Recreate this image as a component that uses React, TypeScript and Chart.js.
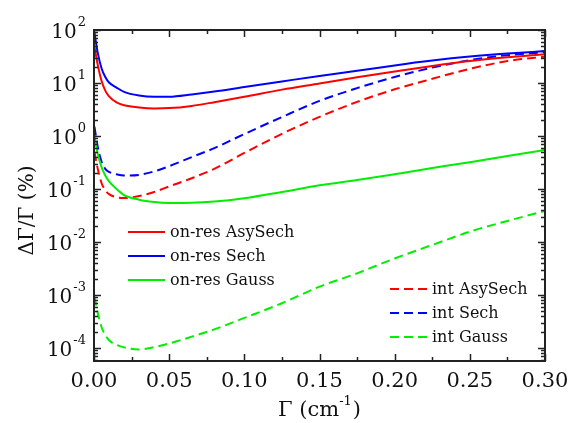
import React, { useEffect, useRef } from "react";
import { Chart, registerables } from "chart.js";

Chart.register(...registerables);

// Γ (cm^-1) sample positions
const gammas = [0.0003, 0.0025, 0.005, 0.0075, 0.01, 0.015, 0.02, 0.03, 0.04, 0.05, 0.065, 0.08, 0.10, 0.125, 0.15, 0.175, 0.20, 0.225, 0.25, 0.275, 0.30];

// ΔΓ/Γ (%) series
const onResAsySech = [49, 22, 11, 7.2, 5.6, 4.3, 3.8, 3.45, 3.32, 3.36, 3.7, 4.35, 5.5, 7.5, 9.8, 12.8, 16.5, 21, 26, 30.5, 34.8];
const onResSech = [88, 37, 19, 13, 10.2, 8.2, 6.8, 5.8, 5.5, 5.52, 6.1, 6.9, 8.4, 10.7, 13.6, 17, 21.5, 26.5, 31.5, 36, 40];
const onResGauss = [0.97, 0.46, 0.26, 0.18, 0.14, 0.1, 0.077, 0.063, 0.057, 0.0548, 0.0552, 0.058, 0.067, 0.088, 0.118, 0.148, 0.19, 0.25, 0.32, 0.42, 0.545];
const intAsySech = [0.5, 0.24, 0.13, 0.095, 0.08, 0.07, 0.068, 0.074, 0.088, 0.112, 0.16, 0.24, 0.48, 1.1, 2.3, 4.4, 7.6, 12, 18.5, 26, 31.4];
const intSech = [1.5, 0.62, 0.33, 0.24, 0.21, 0.19, 0.18, 0.185, 0.215, 0.27, 0.4, 0.59, 1.09, 2.28, 4.6, 8.0, 13, 19.5, 27, 33.5, 38];
const intGauss = [9.3e-4, 4.6e-4, 2.5e-4, 1.76e-4, 1.4e-4, 1.15e-4, 1.03e-4, 9.4e-5, 1.04e-4, 1.22e-4, 1.64e-4, 2.25e-4, 3.7e-4, 7e-4, 1.44e-3, 2.57e-3, 4.9e-3, 8.8e-3, 0.0157, 0.025, 0.0385];

// axes
const xMin = 0;
const xMax = 0.3;
const yMin = 5.7e-5;
const yMax = 100;
const xMajorTicks = [0, 0.05, 0.1, 0.15, 0.2, 0.25, 0.3];
const xTickLabels = ["0.00", "0.05", "0.10", "0.15", "0.20", "0.25", "0.30"];
const xMinorTicks = [0.025, 0.075, 0.125, 0.175, 0.225, 0.275];
const yExponents = [-4, -3, -2, -1, 0, 1, 2];
const yMinorMultipliers = [2, 3, 4, 5, 6, 7, 8, 9];

const xTitle = "Γ (cm";
const xTitleSup = "-1";
const yTitle = "ΔΓ/Γ (%)";

const RED = "#ff0000";
const BLUE = "#0000ff";
const GREEN = "#00ee00";
const DASH = [9, 5];
const FONT = '"DejaVu Serif", serif';

const pts = (arr: number[]) => gammas.map((g, i) => ({ x: g, y: arr[i] }));

const framePlugin = {
  id: "framePlugin",
  afterDraw(chart: any) {
    const ctx: CanvasRenderingContext2D = chart.ctx;
    const { left, right, top, bottom } = chart.chartArea;
    const xs = chart.scales.x;
    const ys = chart.scales.y;
    ctx.save();
    ctx.strokeStyle = "#222";
    ctx.fillStyle = "#111";

    // frame
    ctx.lineWidth = 2;
    ctx.strokeRect(left, top, right - left, bottom - top);

    // ticks
    ctx.lineWidth = 1.5;
    const line = (x1: number, y1: number, x2: number, y2: number) => {
      ctx.beginPath();
      ctx.moveTo(x1, y1);
      ctx.lineTo(x2, y2);
      ctx.stroke();
    };
    xMajorTicks.forEach((v) => {
      const px = Math.round(xs.getPixelForValue(v)) + 0.5;
      line(px, bottom, px, bottom - 7);
      line(px, top, px, top + 7);
    });
    xMinorTicks.forEach((v) => {
      const px = Math.round(xs.getPixelForValue(v)) + 0.5;
      line(px, bottom, px, bottom - 4);
      line(px, top, px, top + 4);
    });
    yExponents.forEach((e) => {
      const py = Math.round(ys.getPixelForValue(Math.pow(10, e))) + 0.5;
      line(left, py, left + 7, py);
      line(right, py, right - 7, py);
    });
    for (let e = -5; e <= 1; e++) {
      yMinorMultipliers.forEach((m) => {
        const v = m * Math.pow(10, e);
        if (v < yMin || v > yMax) return;
        const py = Math.round(ys.getPixelForValue(v)) + 0.5;
        line(left, py, left + 4, py);
        line(right, py, right - 4, py);
      });
    }

    // x tick labels
    ctx.font = `21px ${FONT}`;
    ctx.textAlign = "center";
    ctx.textBaseline = "alphabetic";
    xMajorTicks.forEach((v, i) => {
      ctx.fillText(xTickLabels[i], xs.getPixelForValue(v), bottom + 26);
    });

    // y tick labels: 10^e
    yExponents.forEach((e) => {
      const py = ys.getPixelForValue(Math.pow(10, e));
      ctx.font = `20px ${FONT}`;
      const baseW = ctx.measureText("10").width;
      ctx.font = `13px ${FONT}`;
      const supW = ctx.measureText(String(e)).width;
      const rightEdge = left - 8;
      const x0 = rightEdge - supW - baseW - 1;
      ctx.textAlign = "left";
      ctx.textBaseline = "alphabetic";
      ctx.font = `20px ${FONT}`;
      ctx.fillText("10", x0, py + 8);
      ctx.font = `13px ${FONT}`;
      ctx.fillText(String(e), x0 + baseW + 1, py - 4);
    });

    // x title
    ctx.font = `21px ${FONT}`;
    const tw = ctx.measureText(xTitle).width;
    ctx.font = `13px ${FONT}`;
    const sw = ctx.measureText(xTitleSup).width;
    ctx.font = `21px ${FONT}`;
    const pw = ctx.measureText(")").width;
    const total = tw + sw + pw + 1;
    const cx = (left + right) / 2;
    let xx = cx - total / 2;
    ctx.textAlign = "left";
    ctx.fillText(xTitle, xx, 416);
    xx += tw;
    ctx.font = `13px ${FONT}`;
    ctx.fillText(xTitleSup, xx, 405);
    xx += sw + 1;
    ctx.font = `21px ${FONT}`;
    ctx.fillText(")", xx, 416);

    // y title
    ctx.save();
    ctx.translate(33, (top + bottom) / 2 + 15);
    ctx.rotate(-Math.PI / 2);
    ctx.font = `20px ${FONT}`;
    ctx.textAlign = "center";
    ctx.textBaseline = "alphabetic";
    ctx.fillText(yTitle, 0, 0);
    ctx.restore();

    // legends
    const ds = chart.data.datasets;
    const drawLegend = (idxs: number[], x1: number, x2: number, tx: number, y0: number) => {
      idxs.forEach((di, k) => {
        const d = ds[di];
        const y = y0 + k * 24;
        ctx.save();
        ctx.strokeStyle = d.borderColor;
        ctx.lineWidth = 2;
        ctx.setLineDash(d.borderDash || []);
        line(x1, y, x2, y);
        ctx.restore();
        ctx.font = `16px ${FONT}`;
        ctx.fillStyle = "#111";
        ctx.textAlign = "left";
        ctx.textBaseline = "middle";
        ctx.fillText(d.label, tx, y + 1);
      });
    };
    drawLegend([0, 1, 2], 128, 165, 170, 232);
    drawLegend([3, 4, 5], 390, 428, 432, 289);

    ctx.restore();
  },
};

export default function App() {
  const ref = useRef<HTMLCanvasElement>(null);
  useEffect(() => {
    if (!ref.current) return;
    const mk = (label: string, arr: number[], color: string, dashed: boolean) => ({
      label,
      data: pts(arr),
      borderColor: color,
      backgroundColor: color,
      borderWidth: 2,
      borderDash: dashed ? DASH : [],
      pointRadius: 0,
      fill: false,
      cubicInterpolationMode: "monotone" as const,
    });
    const chart = new Chart(ref.current, {
      type: "line",
      data: {
        datasets: [
          mk("on-res AsySech", onResAsySech, RED, false),
          mk("on-res Sech", onResSech, BLUE, false),
          mk("on-res Gauss", onResGauss, GREEN, false),
          mk("int AsySech", intAsySech, RED, true),
          mk("int Sech", intSech, BLUE, true),
          mk("int Gauss", intGauss, GREEN, true),
        ],
      },
      options: {
        responsive: false,
        animation: false,
        devicePixelRatio: 1,
        layout: { padding: { left: 94, right: 24, top: 30, bottom: 62 } },
        plugins: { legend: { display: false }, tooltip: { enabled: false } },
        scales: {
          x: { type: "linear", min: xMin, max: xMax, display: false },
          y: { type: "logarithmic", min: yMin, max: yMax, display: false },
        },
      },
      plugins: [framePlugin],
    });
    return () => chart.destroy();
  }, []);
  return (
    <div style={{ position: "fixed", left: 0, top: 0, width: 569, height: 423, background: "#fff" }}>
      <canvas ref={ref} width={569} height={423} style={{ display: "block" }} />
    </div>
  );
}
